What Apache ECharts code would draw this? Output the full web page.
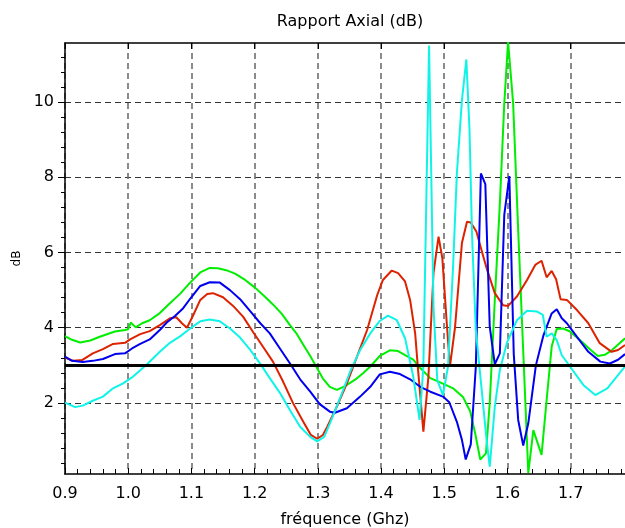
<!DOCTYPE html>
<html>
<head>
<meta charset="utf-8">
<script src="https://cdn.jsdelivr.net/npm/echarts@6/dist/echarts.min.js"></script>
<style>html,body{margin:0;padding:0;background:#fff}#c{width:625px;height:528px}</style>
</head>
<body>
<div id="c"></div>
<script>
// ---------- data ----------
const xMajorTicks = [0.9, 1.0, 1.1, 1.2, 1.3, 1.4, 1.5, 1.6, 1.7];
const yMajorTicks = [2, 4, 6, 8, 10];
const refLevel = 3;

const greenF = [0.900,0.911,0.924,0.940,0.955,0.979,0.995,1.000,1.004,1.012,1.022,1.034,1.050,1.066,1.082,1.098,1.114,1.129,1.142,1.155,1.169,1.185,1.201,1.216,1.229,1.243,1.256,1.267,1.277,1.288,1.299,1.308,1.319,1.330,1.343,1.359,1.372,1.383,1.398,1.414,1.427,1.438,1.451,1.462,1.478,1.497,1.514,1.530,1.541,1.549,1.557,1.566,1.572,1.580,1.588,1.595,1.601,1.609,1.617,1.633,1.641,1.654,1.662,1.670,1.678,1.688,1.699,1.715,1.731,1.743,1.754,1.765,1.777,1.786];
const greenV = [3.78,3.68,3.61,3.66,3.76,3.90,3.94,3.96,4.14,4.01,4.12,4.20,4.39,4.65,4.90,5.20,5.47,5.59,5.58,5.53,5.44,5.27,5.06,4.83,4.62,4.37,4.07,3.83,3.55,3.25,2.92,2.65,2.43,2.35,2.45,2.62,2.80,2.97,3.25,3.40,3.38,3.27,3.15,2.93,2.66,2.52,2.39,2.15,1.78,1.19,0.50,0.66,2.00,4.73,7.30,9.96,11.60,9.97,6.60,0.14,1.28,0.62,2.08,3.50,3.97,3.98,3.90,3.67,3.42,3.25,3.28,3.40,3.58,3.72];

const redF = [0.900,0.913,0.927,0.944,0.960,0.976,0.995,1.003,1.019,1.034,1.050,1.066,1.076,1.085,1.093,1.103,1.114,1.125,1.134,1.150,1.166,1.182,1.197,1.213,1.229,1.245,1.261,1.277,1.289,1.299,1.308,1.315,1.330,1.346,1.362,1.378,1.394,1.403,1.417,1.427,1.438,1.446,1.454,1.459,1.467,1.475,1.483,1.491,1.497,1.504,1.509,1.512,1.517,1.528,1.536,1.542,1.551,1.560,1.568,1.580,1.593,1.601,1.615,1.631,1.644,1.654,1.662,1.670,1.677,1.684,1.694,1.710,1.728,1.746,1.765,1.775,1.786];
const redV = [3.21,3.12,3.14,3.32,3.43,3.57,3.60,3.69,3.83,3.91,4.07,4.25,4.28,4.12,4.00,4.34,4.74,4.90,4.92,4.81,4.58,4.29,3.90,3.50,3.10,2.57,1.99,1.50,1.15,1.05,1.15,1.37,1.90,2.52,3.23,3.94,4.87,5.27,5.52,5.45,5.23,4.74,3.85,2.80,1.24,2.70,5.45,6.42,5.85,4.12,2.97,2.92,4.00,6.25,6.82,6.80,6.55,6.00,5.53,4.92,4.60,4.58,4.83,5.27,5.67,5.78,5.34,5.51,5.29,4.76,4.74,4.47,4.12,3.59,3.36,3.41,3.54];

const blueF = [0.900,0.911,0.928,0.944,0.960,0.979,0.995,1.006,1.019,1.034,1.050,1.061,1.074,1.087,1.098,1.114,1.129,1.145,1.161,1.177,1.193,1.209,1.224,1.240,1.256,1.272,1.288,1.303,1.319,1.327,1.346,1.367,1.383,1.398,1.414,1.430,1.446,1.462,1.478,1.498,1.508,1.520,1.528,1.534,1.542,1.550,1.558,1.565,1.572,1.580,1.588,1.595,1.603,1.610,1.617,1.625,1.633,1.645,1.657,1.670,1.678,1.686,1.694,1.710,1.728,1.747,1.762,1.775,1.786];
const blueV = [3.23,3.12,3.09,3.12,3.17,3.30,3.32,3.45,3.57,3.69,3.94,4.14,4.31,4.52,4.77,5.11,5.21,5.20,5.00,4.76,4.44,4.12,3.85,3.45,3.05,2.63,2.30,1.97,1.77,1.74,1.86,2.17,2.43,2.76,2.83,2.77,2.63,2.43,2.30,2.17,2.02,1.50,1.02,0.50,0.90,2.97,8.10,7.82,4.03,3.03,3.32,7.00,8.03,3.30,1.55,0.87,1.46,3.00,3.80,4.38,4.49,4.25,4.12,3.76,3.36,3.10,3.05,3.15,3.30];

const cyanF = [0.900,0.916,0.928,0.944,0.960,0.976,0.992,1.006,1.019,1.031,1.050,1.066,1.082,1.098,1.114,1.129,1.145,1.161,1.177,1.193,1.209,1.224,1.240,1.256,1.272,1.288,1.299,1.310,1.319,1.335,1.351,1.367,1.383,1.398,1.411,1.425,1.438,1.451,1.461,1.467,1.476,1.483,1.489,1.498,1.506,1.514,1.520,1.528,1.535,1.540,1.544,1.550,1.567,1.572,1.580,1.588,1.599,1.615,1.631,1.647,1.656,1.662,1.670,1.678,1.686,1.699,1.720,1.739,1.758,1.773,1.786];
const cyanV = [2.01,1.89,1.93,2.06,2.17,2.39,2.52,2.68,2.87,3.05,3.36,3.60,3.77,3.98,4.17,4.22,4.17,3.98,3.74,3.41,3.04,2.66,2.27,1.81,1.37,1.10,0.98,1.10,1.45,2.12,2.83,3.41,3.85,4.18,4.32,4.20,3.72,2.70,1.55,2.97,11.50,4.56,2.61,2.21,2.97,5.63,8.10,10.05,11.13,9.26,6.45,3.94,1.02,0.31,1.90,2.88,3.59,4.20,4.45,4.43,4.34,3.76,3.85,3.67,3.27,2.97,2.48,2.21,2.39,2.70,2.97];

// ---------- chart ----------
const X_MIN = 0.9, X_MAX = 1.786, Y_MIN = 0.113, Y_MAX = 11.568;
function pairs(f, v) { return f.map((x, i) => [x, v[i]]); }
function minorVals(min, max, step, majors) {
  const out = [];
  const n0 = Math.ceil(min / step - 1e-9), n1 = Math.floor(max / step + 1e-9);
  for (let n = n0; n <= n1; n++) {
    const val = +(n * step).toFixed(4);
    if (!majors.some(m => Math.abs(m - val) < 1e-6)) out.push(val);
  }
  return out;
}
const xMinor = minorVals(X_MIN, X_MAX, 0.02, xMajorTicks);
const yMinor = minorVals(Y_MIN, Y_MAX, 0.4, yMajorTicks);
const FONT = '"DejaVu Sans", sans-serif';

const chart = echarts.init(document.getElementById('c'), null, { renderer: 'canvas' });
const lineSeries = (name, f, v, color) => ({
  name, type: 'line', xAxisIndex: 0, yAxisIndex: 0,
  data: pairs(f, v), showSymbol: false, symbol: 'none', smooth: false, clip: true,
  lineStyle: { color, width: 2 }, itemStyle: { color }, z: 3
});
const option = {
  animation: false,
  backgroundColor: '#fff',
  title: {
    text: 'Rapport Axial (dB)', left: 345, top: 9, textAlign: 'center',
    textStyle: { fontFamily: FONT, fontSize: 16, fontWeight: 'normal', color: '#000' }
  },
  grid: { left: 65, right: 0, top: 43, bottom: 54, containLabel: false, outerBoundsMode: 'none' },
  xAxis: [
    {
      type: 'value', position: 'bottom', min: X_MIN, max: X_MAX,
      name: 'fréquence (Ghz)', nameLocation: 'middle', nameGap: 38,
      nameTextStyle: { fontFamily: FONT, fontSize: 16, color: '#000' },
      axisLine: { show: true, onZero: false, lineStyle: { color: '#000', width: 1.5 } },
      axisTick: { show: true, inside: true, length: 6, customValues: xMajorTicks, lineStyle: { color: '#000', width: 1 } },
      axisLabel: { show: true, margin: 12, customValues: xMajorTicks, formatter: v => v.toFixed(1),
        fontFamily: FONT, fontSize: 16, color: '#000' },
      splitLine: { show: true, lineStyle: { color: '#666', width: 1.5, type: [6, 4] } }
    },
    {
      type: 'value', position: 'bottom', min: X_MIN, max: X_MAX,
      axisLine: { show: false, onZero: false },
      axisTick: { show: true, inside: true, length: 5, customValues: xMinor, lineStyle: { color: '#000', width: 1 } },
      axisLabel: { show: false }, splitLine: { show: false }
    },
    {
      type: 'value', position: 'top', min: X_MIN, max: X_MAX,
      axisLine: { show: true, onZero: false, lineStyle: { color: '#000', width: 1.5 } },
      axisTick: { show: true, inside: true, length: 6, customValues: xMajorTicks, lineStyle: { color: '#000', width: 1 } },
      axisLabel: { show: false }, splitLine: { show: false }
    }
  ],
  yAxis: [
    {
      type: 'value', position: 'left', min: Y_MIN, max: Y_MAX,
      name: 'dB', nameLocation: 'middle', nameGap: 36,
      nameTextStyle: { fontFamily: FONT, fontSize: 12, color: '#000' },
      axisLine: { show: true, onZero: false, lineStyle: { color: '#000', width: 1.5 } },
      axisTick: { show: true, inside: false, length: 7, customValues: yMajorTicks, lineStyle: { color: '#000', width: 1 } },
      axisLabel: { show: true, margin: 11, customValues: yMajorTicks, formatter: v => String(Math.round(v)),
        fontFamily: FONT, fontSize: 16, color: '#000' },
      splitLine: { show: true, lineStyle: { color: '#333', width: 1, type: [6, 4] } }
    },
    {
      type: 'value', position: 'left', min: Y_MIN, max: Y_MAX,
      axisLine: { show: false, onZero: false },
      axisTick: { show: true, inside: false, length: 4, customValues: yMinor, lineStyle: { color: '#000', width: 1 } },
      axisLabel: { show: false }, splitLine: { show: false }
    }
  ],
  series: [
    lineSeries('green', greenF, greenV, '#00ee00'),
    lineSeries('red', redF, redV, '#dd2200'),
    lineSeries('blue', blueF, blueV, '#0000ee'),
    Object.assign(lineSeries('cyan', cyanF, cyanV, '#10f4e8'), {
      markLine: {
        silent: true, symbol: ['none', 'none'], label: { show: false }, animation: false,
        lineStyle: { color: '#000', width: 3, type: 'solid' },
        data: [{ yAxis: refLevel }]
      }
    })
  ]
};
chart.setOption(option);
</script>
</body>
</html>
